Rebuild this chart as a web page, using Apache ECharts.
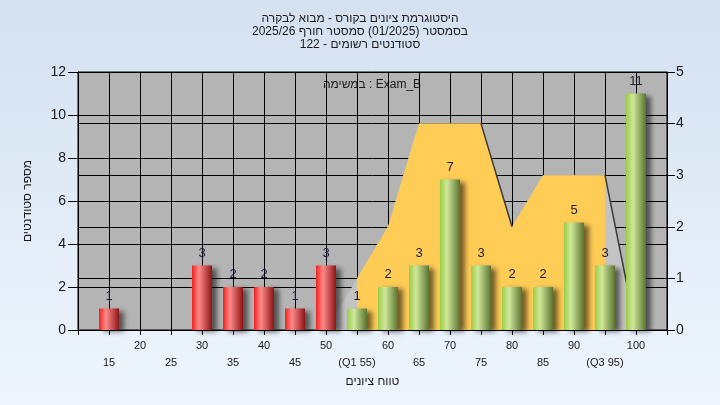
<!DOCTYPE html>
<html>
<head>
<meta charset="utf-8">
<script src="https://cdn.jsdelivr.net/npm/echarts@6/dist/echarts.min.js"></script>
<style>
html,body{margin:0;padding:0;}
body{background:linear-gradient(#d4e1f1,#eef5fd);}
#chart{width:720px;height:405px;}
</style>
</head>
<body>
<div id="chart"></div>
<script>
// ציונים ומספר סטודנטים
var grades = [15,20,25,30,35,40,45,50,55,60,65,70,75,80,85,90,95,100];
var counts = [1,0,0,3,2,2,1,3,1,2,3,7,3,2,2,5,3,11];
var tickLabels = ['15','20','25','30','35','40','45','50','(Q1 55)','60','65','70','75','80','85','90','(Q3 95)','100'];

// עקומת ההתפלגות (ציר ימני)
var areaGrades = [50,55,60,65,70,75,80,85,90,95,100];
var areaValues = [0,1,2,4,4,4,2,3,3,3,0];
var q1 = 55, q3 = 95;

var titleLines = ['היסטוגרמת ציונים בקורס - מבוא לבקרה','בסמסטר (01/2025) סמסטר חורף 2025/26','סטודנטים רשומים - 122'];
var taskText = 'במשימה : Exam_B';

var FONT = 'Liberation Sans, DejaVu Sans, sans-serif';

var chart = echarts.init(document.getElementById('chart'));

function grad(c1,c2,c3){
	return new echarts.graphic.LinearGradient(0,0,1,0,[
		{offset:0,color:c1},{offset:0.35,color:c2},{offset:1,color:c3}
	]);
}
var redGrad = grad('#f02020','#ff8a8a','#8e1414');
var greenGrad = grad('#9ccc48','#cfe89a','#5a7430');

var barData = [];
for(var i=0;i<grades.length;i++){
	if(counts[i]>0) barData.push([grades[i],counts[i]]);
}
var fullArea = [], midArea = [], edge = [];
for(var i=0;i<areaGrades.length;i++){
	fullArea.push([areaGrades[i],areaValues[i]]);
	if(areaGrades[i]>=q1 && areaGrades[i]<=q3) midArea.push([areaGrades[i],areaValues[i]]);
	if(i>0 && areaValues[i]<areaValues[i-1]){
		edge.push([areaGrades[i-1],areaValues[i-1]]);
		edge.push([areaGrades[i],areaValues[i]]);
		edge.push([areaGrades[i],'-']);
	}
}

var labelMap = {};
for(var i=0;i<grades.length;i++) labelMap[grades[i]] = tickLabels[i];

var opt = {
	backgroundColor:'transparent',
	textStyle:{fontFamily:FONT},
	animation:false,
	title:{
		text:titleLines.join('\n'),
		left:'center',top:7,
		textStyle:{fontSize:12,fontWeight:'normal',color:'#1a1a1a',lineHeight:13,fontFamily:FONT}
	},
	graphic:[{
		type:'text',x:372,y:79,
		style:{text:taskText,textAlign:'center',fontSize:12,fill:'#1a1a1a',fontFamily:FONT}
	}],
	grid:{left:78,right:53,top:72,bottom:75,show:true,backgroundColor:'#b4b4b4',borderColor:'#000',borderWidth:1},
	xAxis:{
		type:'value',min:10,max:105,interval:5,
		name:'טווח ציונים',nameLocation:'middle',nameGap:43,
		nameTextStyle:{fontSize:12,color:'#1a1a1a'},
		axisLine:{show:true,lineStyle:{color:'#000'}},
		axisTick:{show:true,length:5,lineStyle:{color:'#000'}},
		splitLine:{show:true,lineStyle:{color:'#000',width:1}},
		axisLabel:{
			margin:7,fontSize:11,lineHeight:17,color:'#1a1a1a',
			formatter:function(v){
				var t = labelMap[v];
				if(t===undefined) return '';
				return (v%10===0) ? t : '\n'+t;
			}
		}
	},
	yAxis:[{
		type:'value',min:0,max:12,interval:2,
		name:'מספר סטודנטים',nameLocation:'middle',nameGap:44,
		nameTextStyle:{fontSize:12,color:'#1a1a1a'},
		axisLine:{show:true,lineStyle:{color:'#000'}},
		axisTick:{show:true,length:10,lineStyle:{color:'#000'}},
		splitLine:{show:true,lineStyle:{color:'#000',width:1}},
		axisLabel:{margin:12,fontSize:14,color:'#1a1a1a'}
	},{
		type:'value',min:0,max:5,interval:1,position:'right',
		axisLine:{show:true,lineStyle:{color:'#000'}},
		axisTick:{show:true,length:8,lineStyle:{color:'#000'}},
		splitLine:{show:true,lineStyle:{color:'#000',width:1}},
		axisLabel:{margin:9,fontSize:14,color:'#1a1a1a'}
	}],
	series:[{
		type:'line',yAxisIndex:1,data:fullArea,symbol:'none',silent:true,z:1,
		lineStyle:{width:0},areaStyle:{color:'#c3c3c3',opacity:1}
	},{
		type:'line',yAxisIndex:1,data:midArea,symbol:'none',silent:true,z:1,
		lineStyle:{width:0},areaStyle:{color:'#ffcc55',opacity:1}
	},{
		type:'line',yAxisIndex:1,data:edge,symbol:'none',silent:true,connectNulls:false,z:1,
		lineStyle:{width:1.5,color:'#3a3a3a'}
	},{
		type:'bar',data:barData,barWidth:20,z:5,
		itemStyle:{
			color:function(p){ return p.value[0]<q1 ? redGrad : greenGrad; },
			shadowColor:'rgba(0,0,0,0.55)',shadowBlur:5,shadowOffsetX:5,shadowOffsetY:2
		},
		label:{show:true,position:'top',distance:6,fontSize:13,color:'#1c1c40'}
	}]
};
chart.setOption(opt);
</script>
</body>
</html>
